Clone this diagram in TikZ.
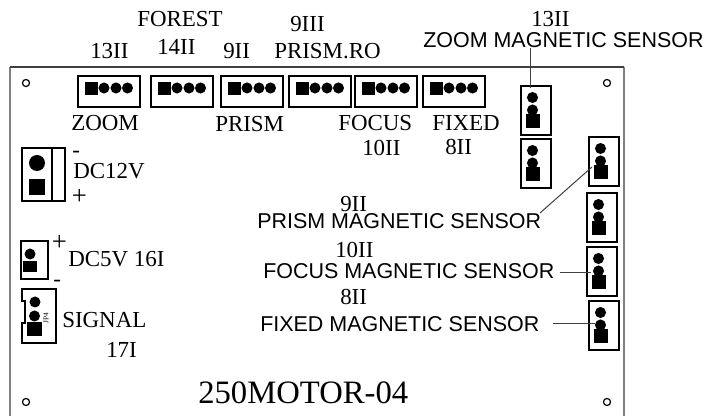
\documentclass[tikz,border=0pt]{standalone}
\usepackage{fontspec}
\setmainfont{Liberation Serif}
\setsansfont{Liberation Sans}
\usetikzlibrary{calc}

\begin{document}
\begin{tikzpicture}[x=0.75pt,y=-0.75pt]
\tikzstyle{conn}=[draw,line width=1.5pt,inner sep=0,outer sep=0]
\tikzstyle{hconn}=[conn,minimum width=46.5pt,minimum height=23.25pt]
\tikzstyle{vconn}=[conn,minimum width=22.5pt,minimum height=36.5pt]
\tikzstyle{sqpin}=[fill=black,inner sep=0,outer sep=0,minimum size=10pt]
\tikzstyle{rdpin}=[circle,fill=black,inner sep=0,outer sep=0,minimum size=8.3pt]
\tikzstyle{hole}=[circle,draw,line width=0.9pt,inner sep=0,minimum size=5.3pt]
\tikzstyle{serif}=[anchor=base west,inner sep=0,font=\fontsize{17.2pt}{17.2pt}\selectfont]
\tikzstyle{sign}=[serif,font=\fontsize{20pt}{20pt}\selectfont]
\tikzstyle{sans}=[anchor=base west,inner sep=0,font=\sffamily\fontsize{16.1pt}{16.1pt}\selectfont]
\tikzstyle{leader}=[line width=0.75pt,black!75]
\useasboundingbox (0,0) rectangle (711,416);
% board outline
\draw [line width=1.5pt,black!50] (10,416) -- (10,67) (624,67) -- (624,416);
\draw [line width=0.8pt,black!75] (10,67) -- (624,67);
\node [hole] (hole1) at (26,83) {};
\node [hole] (hole2) at (607,83) {};
\node [hole] (hole3) at (26,402) {};
\node [hole] (hole4) at (607,402) {};
% four pin headers
\foreach \name/\x in {zoomh/78,foresth/151,prismh/221,prismroh/289,focush/355,fixedh/423}{
  \node [hconn] (\name) at (\x+31,91.5) {};
  \node [sqpin] (\name sq) at (\x+13.5,88.5) {};
  \node [rdpin] (\name a) at (\x+26,88) {};
  \node [rdpin] (\name b) at (\x+38,88) {};
  \node [rdpin] (\name c) at (\x+49.5,88) {};
}
% sensor headers
\foreach \name/\x/\y in {zoomv/521/86,sparev/521/139,prismv/589/137,nextv/587/193,focusv/587/247,fixedv/589/301}{
  \node [vconn] (\name) at (\x+15,\y+24.5) {};
  \node [rdpin] (\name a) at (\x+11.5,\y+11.5) {};
  \node [rdpin] (\name b) at (\x+11.5,\y+24) {};
  \node [sqpin] (\name sq) at (\x+12,\y+35) {};
}
% power and signal
\node [conn,minimum width=32.25pt,minimum height=39.75pt] (dc12) at (43.5,174.5) {};
\draw [line width=1.5pt] (dc12.north west) ++(22.5pt,0) -- ($(dc12.south west)+(22.5pt,0)$);
\node [circle,fill=black,inner sep=0,minimum size=12pt] (dc12a) at (37,163) {};
\node [sqpin,minimum size=12pt] (dc12b) at (37,187) {};
\node [conn,minimum width=20.25pt,minimum height=28.5pt] (dc5) at (34.5,260) {};
\node [rdpin,minimum size=8.25pt] (dc5a) at (30,254) {};
\node [sqpin,minimum width=10.5pt,minimum height=8.5pt] (dc5b) at (30,266.5) {};
\draw [line width=1.5pt] (22,289) -- (22,301) -- (25,301) -- (25,323) -- (22,323) -- (22,343) -- (56,343) -- (56,289) -- cycle;
\node [rdpin,minimum size=8.25pt] (siga) at (35,302) {};
\node [rdpin,minimum size=8.25pt] (sigb) at (34.5,316) {};
\node [sqpin,minimum width=11.25pt,minimum height=10.5pt] (sigc) at (34.5,329) {};
\node [rotate=90,inner sep=0,font=\fontsize{5.5pt}{5.5pt}\selectfont] (jp) at (46,318) {JP4};
% labels on the top edge
\node [serif] (forest) at (137,27) {FOREST};
\node [serif] (no14) at (157,55) {14II};
\node [serif] (no13) at (90,59) {13II};
\node [serif] (no9) at (223,59) {9II};
\node [serif] (no9b) at (290,32) {9III};
\node [serif] (prismro) at (274,59) {PRISM.RO};
\node [serif] (zoom) at (71,131) {ZOOM};
\node [serif] (prism) at (215,132) {PRISM};
\node [serif] (focus) at (338,131) {FOCUS};
\node [serif] (no10) at (362,156) {10II};
\node [serif] (fixed) at (432,131) {FIXED};
\node [serif] (no8) at (445,155) {8II};
\node [serif] (no13b) at (531,27) {13II};
% sensor labels
\node [sans] (zoomsens) at (423,48) {ZOOM MAGNETIC SENSOR};
\node [serif] (no9c) at (340,212) {9II};
\node [sans] (prismsens) at (257,229) {PRISM MAGNETIC SENSOR};
\node [serif] (no10b) at (335,258) {10II};
\node [sans] (focussens) at (263,279) {FOCUS MAGNETIC SENSOR};
\node [serif] (no8b) at (340,305) {8II};
\node [sans] (fixedsens) at (260,332) {FIXED MAGNETIC SENSOR};
% power labels
\node [serif] (minus12) at (72,158) {-};
\node [serif] (dc12v) at (73,179) {DC12V};
\node [sign] (plus12) at (71.5,205) {+};
\node [sign] (plus5) at (51.5,251) {+};
\node [serif] (minus5) at (53,287) {-};
\node [serif] (dc5v) at (68,267) {DC5V 16I};
\node [serif] (signal) at (62,328) {SIGNAL};
\node [serif] (no17) at (106,358) {17I};
\node [anchor=base west,inner sep=0,font=\fontsize{24.5pt}{24.5pt}\selectfont] (title) at (198,404) {250MOTOR-04};
% leaders
\coordinate (zoomend) at (530,88);
\coordinate (prismend) at (592,167);
\coordinate (prismstart) at (540,213);
\coordinate (focusend) at (591,273);
\coordinate (fixedend) at (595,324);
\draw [leader] (zoomsens.south -| zoomend) -- (zoomend);
\draw [leader] (prismstart) -- (prismend);
\draw [leader] (focussens.east |- focusend) ++(5,0) -- (focusend);
\draw [leader] (fixedsens.east |- fixedend) ++(13,0) -- (fixedend);
\end{tikzpicture}
\end{document}
